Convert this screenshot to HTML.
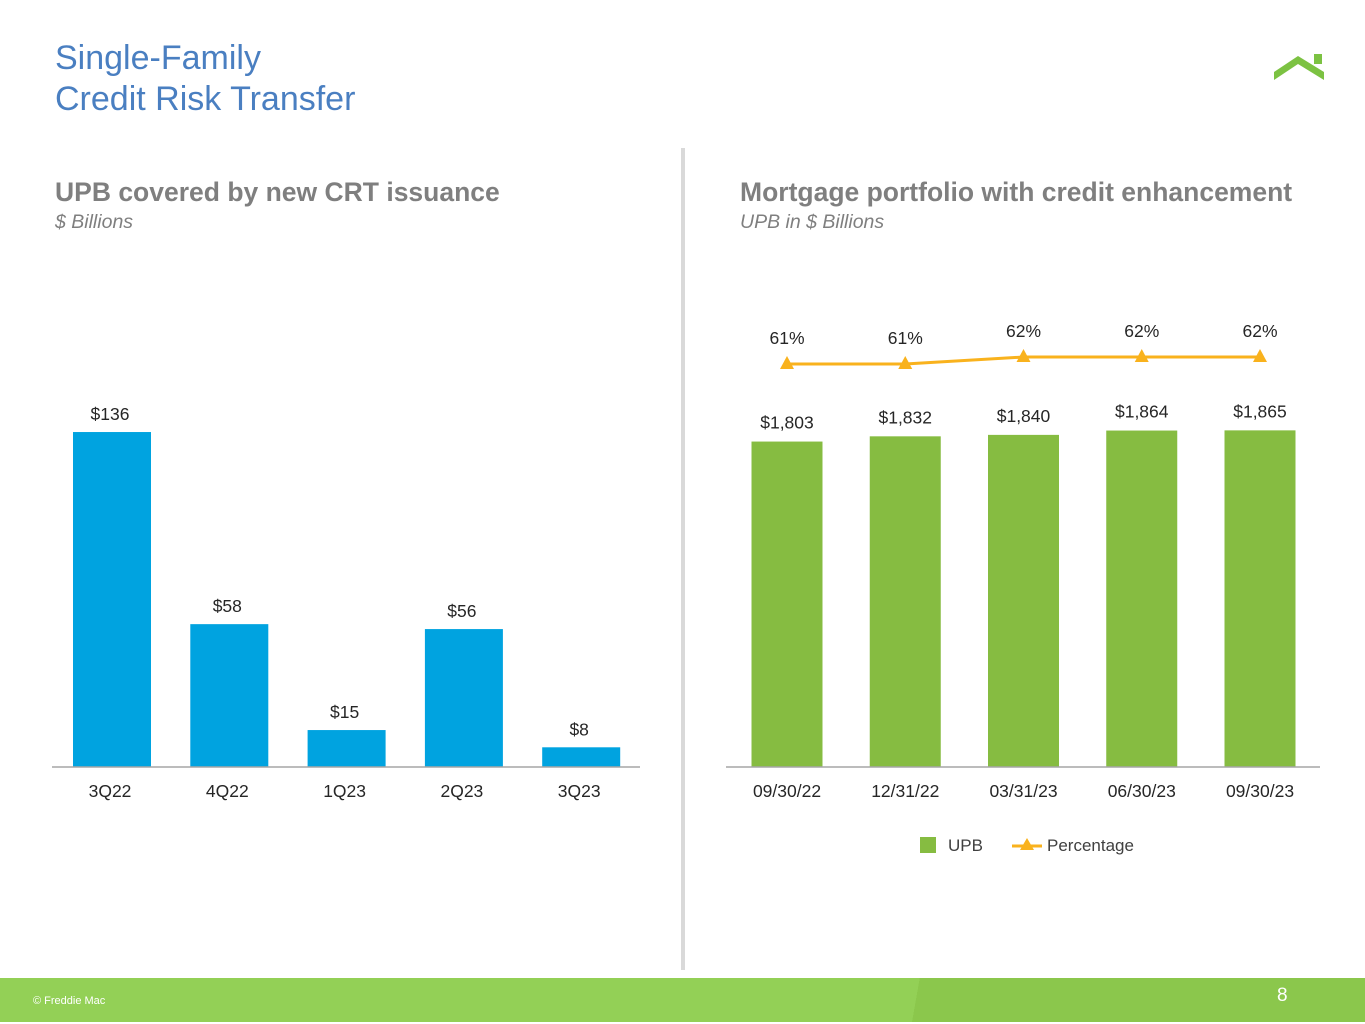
<!DOCTYPE html>
<html><head><meta charset="utf-8"><style>
body{margin:0;width:1365px;height:1024px;position:relative;background:#fff;font-family:"Liberation Sans",sans-serif;overflow:hidden}
.t{position:absolute}
</style></head><body>
<div class="t" style="left:55px;top:38px;color:#4a7fc1;font-size:34px;line-height:41px">Single-Family<br>Credit Risk Transfer</div>
<svg class="t" style="left:1272px;top:52px" width="54" height="30"><polygon points="2,20 26,4 52,20 52,28 26,12 2,28" fill="#7cc242"/><rect x="42" y="2" width="8" height="10" fill="#7cc242"/></svg>
<div class="t" style="left:681px;top:148px;width:4px;height:822px;background:#d9d9d9"></div>
<div class="t" style="left:55px;top:177px;font-size:26.5px;font-weight:bold;color:#7f7f7f">UPB covered by new CRT issuance</div>
<div class="t" style="left:55px;top:211px;font-size:19.5px;font-style:italic;color:#7f7f7f">$ Billions</div>
<div class="t" style="left:740px;top:177px;font-size:26.5px;font-weight:bold;color:#7f7f7f">Mortgage portfolio with credit enhancement</div>
<div class="t" style="left:740px;top:211px;font-size:19.5px;font-style:italic;color:#7f7f7f">UPB in $ Billions</div>
<svg class="t" style="left:0;top:0" width="1365" height="1024">
<g id="L"></g><g id="R"></g>
<g>
<rect x="920" y="837" width="16" height="16" fill="#86bc41"/>
<text x="948" y="851" font-size="17" fill="#404040">UPB</text>
<line x1="1012" y1="846" x2="1042" y2="846" stroke="#f9b21d" stroke-width="3"/>
<polygon points="1027,838 1034,850 1020,850" fill="#f9b21d"/>
<text x="1047" y="851" font-size="17" fill="#404040">Percentage</text>
</g>
</svg>
<div class="t" style="left:0;top:978px;width:1365px;height:44px;background:linear-gradient(100deg,#93d056 0,#93d056 67%,#8bc74c 67%)"></div>
<div class="t" style="left:33px;top:995px;font-size:11px;color:#fff">© Freddie Mac</div>
<div class="t" style="left:1277px;top:985px;font-size:19px;color:#fff">8</div>
<script>
const crtCats=["3Q22","4Q22","1Q23","2Q23","3Q23"];
const crtVals=[136,58,15,56,8];
const crtLabels=["$136","$58","$15","$56","$8"];
const portCats=["09/30/22","12/31/22","03/31/23","06/30/23","09/30/23"];
const portVals=[1803,1832,1840,1864,1865];
const portLabels=["$1,803","$1,832","$1,840","$1,864","$1,865"];
const pctVals=[61,61,62,62,62];
const pctLabels=["61%","61%","62%","62%","62%"];
const NS="http://www.w3.org/2000/svg";
function mk(p,t,a,txt){const e=document.createElementNS(NS,t);for(const k in a)e.setAttribute(k,a[k]);if(txt!==undefined)e.textContent=txt;p.appendChild(e);return e;}
const base=767;
const L=document.getElementById('L');
const lx=i=>112+i*117.3, ly=v=>base-v*2.463;
crtVals.forEach((v,i)=>{
 const r=mk(L,'rect',{x:lx(i)-39,y:ly(v),width:78,height:base-ly(v),fill:'#00a3e0'});
 
 
 const t=mk(L,'text',{x:lx(i)-2,y:ly(v)-12,'text-anchor':'middle','font-size':17.5,fill:'#262626'},crtLabels[i]);
 
 
 const c=mk(L,'text',{x:lx(i)-2,y:797,'text-anchor':'middle','font-size':17.5,fill:'#262626'},crtCats[i]);
 
 
});
const la=mk(L,'line',{x1:52,x2:640,y1:base,y2:base,stroke:'#a6a6a6','stroke-width':1.5});


const R=document.getElementById('R');
const rx=i=>787+i*118.25, ry=v=>base-v*0.1805, py=p=>364-(p-61)*7;
portVals.forEach((v,i)=>{
 const r=mk(R,'rect',{x:rx(i)-35.5,y:ry(v),width:71,height:base-ry(v),fill:'#86bc41'});
 
 
 const t=mk(R,'text',{x:rx(i),y:ry(v)-13,'text-anchor':'middle','font-size':17.5,fill:'#262626'},portLabels[i]);
 
 
 const c=mk(R,'text',{x:rx(i),y:797,'text-anchor':'middle','font-size':17.5,fill:'#262626'},portCats[i]);
 
 
});
const ra=mk(R,'line',{x1:726,x2:1320,y1:base,y2:base,stroke:'#a6a6a6','stroke-width':1.5});


const pl=mk(R,'polyline',{points:pctVals.map((p,i)=>rx(i)+','+py(p)).join(' '),fill:'none',stroke:'#f9b21d','stroke-width':3});


pctVals.forEach((p,i)=>{
 const m=mk(R,'polygon',{points:`${rx(i)},${py(p)-8} ${rx(i)+7},${py(p)+5} ${rx(i)-7},${py(p)+5}`,fill:'#f9b21d'});
 
 
 const t=mk(R,'text',{x:rx(i),y:py(p)-20,'text-anchor':'middle','font-size':17.5,fill:'#262626'},pctLabels[i]);
 
 
});
</script>
</body></html>
